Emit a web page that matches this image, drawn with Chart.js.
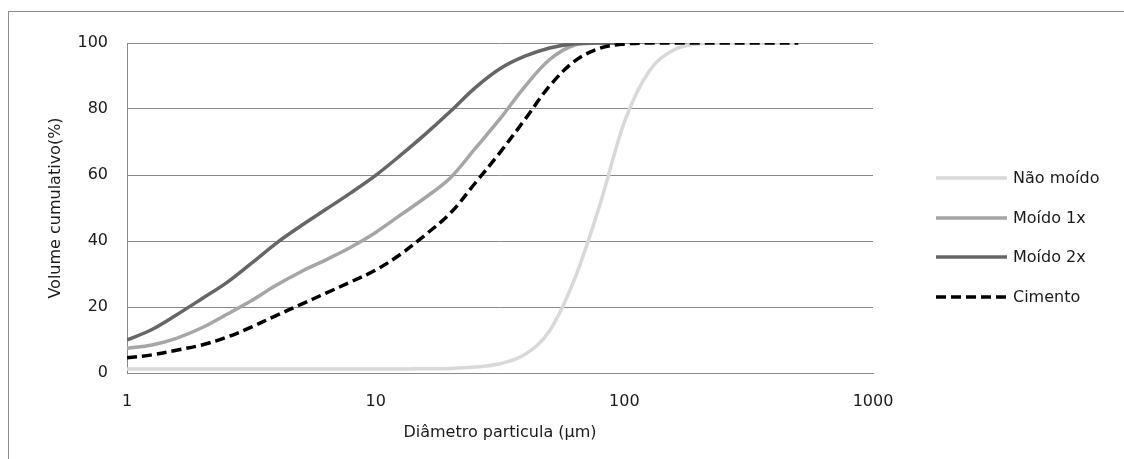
<!DOCTYPE html>
<html>
<head>
<meta charset="utf-8">
<script src="https://cdn.jsdelivr.net/npm/chart.js@4"></script>
<style>
  html, body { margin: 0; padding: 0; background: #fff; }
  canvas { display: block; }
</style>
</head>
<body>
<canvas id="chart" width="1124" height="459"></canvas>
<script>
// diametro das particulas (µm), escala log
const diametros = [1, 1.26, 1.58, 2, 2.51, 3.16, 3.98, 5.01, 6.31, 7.94,
  10, 12.6, 15.8, 20, 25.1, 31.6, 39.8, 50.1, 63.1, 79.4,
  100, 126, 158, 200, 251, 316, 398, 501];

// volume cumulativo (%)
const naoMoido = [1.2, 1.2, 1.2, 1.2, 1.2, 1.2, 1.2, 1.2, 1.2, 1.2,
  1.2, 1.2, 1.3, 1.4, 1.8, 2.8, 5.6, 12.8, 28.5, 50.5,
  76, 91.5, 97.9, 99.8, 100, 100, 100, 100];
const moido1x = [7.5, 8.5, 10.5, 13.7, 17.7, 21.9, 26.6, 30.7, 34.3, 38.1,
  42.6, 47.9, 53.1, 59.2, 68, 77, 86.8, 95, 99.4, 100, 100];
const moido2x = [10, 13.2, 17.6, 22.5, 27.3, 33.2, 39.3, 44.6, 49.6, 54.6,
  59.9, 66, 72.3, 79.3, 86.4, 92.2, 96, 98.5, 99.8, 100, 100];
const cimento = [4.6, 5.5, 6.9, 8.5, 10.8, 13.9, 17.4, 20.8, 24.2, 27.6,
  31.2, 36, 41.8, 48.5, 57.5, 66.8, 76.8, 87, 94.5, 98.4,
  99.7, 100, 100, 100, 100, 100, 100, 100];

const xTicks = [1, 10, 100, 1000];
const yTicks = [0, 20, 40, 60, 80, 100];

const pts = vals => vals.map((v, i) => ({ x: diametros[i], y: v }));

const FONT = "'DejaVu Sans', Verdana, sans-serif";
const GRID = '#8a8a8a';

// moldura + legenda desenhada a partir dos datasets
const extras = {
  id: 'extras',
  beforeDraw(chart) {
    const c = chart.ctx;
    c.save();
    c.fillStyle = '#fff';
    c.fillRect(0, 0, chart.width, chart.height);
    c.strokeStyle = '#8c8c8c';
    c.lineWidth = 1;
    c.strokeRect(8.5, 11.5, 1300, 600);
    c.restore();
  },
  afterDraw(chart) {
    const c = chart.ctx;
    const rows = [178, 218, 257, 297];
    c.save();
    c.font = '16px ' + FONT;
    c.textBaseline = 'middle';
    chart.data.datasets.forEach((ds, i) => {
      const y = rows[i];
      c.beginPath();
      c.strokeStyle = ds.borderColor;
      c.lineWidth = ds.borderWidth;
      c.setLineDash(ds.borderDash || []);
      c.moveTo(936, y);
      c.lineTo(1007, y);
      c.stroke();
      c.setLineDash([]);
      c.fillStyle = '#1a1a1a';
      c.fillText(ds.label, 1013, y + 1);
    });
    c.restore();
  }
};

new Chart(document.getElementById('chart'), {
  type: 'line',
  data: {
    datasets: [
      { label: 'Não moído', data: pts(naoMoido), borderColor: '#d9d9d9', borderWidth: 3.5, order: 4, cubicInterpolationMode: 'monotone' },
      { label: 'Moído 1x', data: pts(moido1x), borderColor: '#a6a6a6', borderWidth: 3.5, order: 3 },
      { label: 'Moído 2x', data: pts(moido2x), borderColor: '#666666', borderWidth: 3.5, order: 2 },
      { label: 'Cimento', data: pts(cimento), borderColor: '#000000', borderWidth: 3.5, borderDash: [10, 5], order: 1 }
    ]
  },
  options: {
    responsive: false,
    animation: false,
    devicePixelRatio: 1,
    layout: { padding: { left: 0, top: 43, right: 251, bottom: 0 } },
    elements: {
      point: { radius: 0 },
      line: { tension: 0.35, borderCapStyle: 'butt' }
    },
    plugins: {
      legend: { display: false },
      tooltip: { enabled: false }
    },
    scales: {
      x: {
        type: 'logarithmic',
        min: 1,
        max: 1000,
        afterBuildTicks: s => { s.ticks = xTicks.map(v => ({ value: v })); },
        afterFit: s => { s.height = 86; },
        grid: { display: false, drawTicks: false },
        border: { display: true, color: GRID },
        ticks: {
          padding: 19,
          color: '#1a1a1a',
          font: { family: FONT, size: 16 },
          maxRotation: 0,
          callback: v => String(v)
        },
        title: {
          display: true,
          text: 'Diâmetro particula (µm)',
          color: '#1a1a1a',
          font: { family: FONT, size: 16 },
          padding: { top: 0, bottom: 17 }
        }
      },
      y: {
        min: 0,
        max: 100,
        afterBuildTicks: s => { s.ticks = yTicks.map(v => ({ value: v })); },
        afterFit: s => { s.width = 127; },
        grid: { color: GRID, lineWidth: 1, drawTicks: false },
        border: { display: true, color: GRID },
        ticks: {
          padding: 19,
          color: '#1a1a1a',
          font: { family: FONT, size: 16 }
        },
        title: {
          display: true,
          text: 'Volume cumulativo(%)',
          color: '#1a1a1a',
          font: { family: FONT, size: 16 },
          padding: { top: 46, bottom: 0 }
        }
      }
    }
  },
  plugins: [extras]
});
</script>
</body>
</html>
